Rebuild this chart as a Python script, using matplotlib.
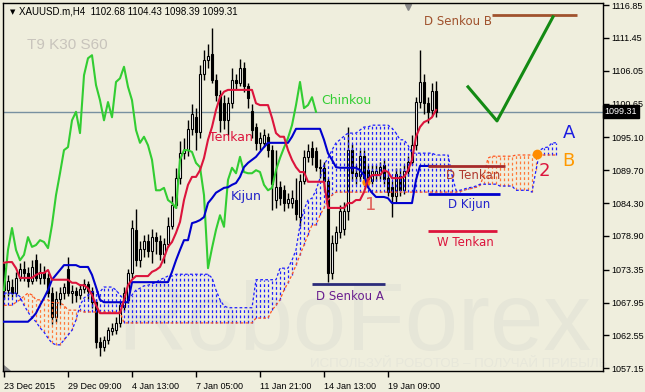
import numpy as np
import matplotlib.pyplot as plt
import matplotlib.transforms as mtransforms
from matplotlib.patches import Polygon

# XAUUSD H4 candles, bar index 0..108
opens = [1073.6, 1070.0, 1070.5, 1069.5, 1072.0, 1073.5, 1072.8, 1071.5, 1075.0, 1072.0,
         1073.0, 1072.0, 1069.5, 1065.5, 1068.5, 1069.5, 1073.5, 1069.5, 1069.8, 1069.2,
         1070.2, 1071.0, 1069.8, 1068.0, 1061.5, 1060.6, 1061.8, 1063.2, 1063.5, 1064.6,
         1067.2, 1068.4, 1072.8, 1079.9, 1075.0, 1076.8, 1078.0, 1076.5, 1078.8, 1078.0,
         1076.0, 1077.5, 1080.5, 1084.0, 1088.5, 1092.5, 1093.0, 1096.5, 1098.5, 1096.0,
         1105.5, 1107.8, 1108.8, 1104.5, 1102.0, 1100.8, 1098.0, 1100.8, 1104.5, 1104.0,
         1106.5, 1103.5, 1099.5, 1096.8, 1094.2, 1094.2, 1095.2, 1093.0, 1084.8, 1086.9,
         1086.4, 1084.3, 1084.3, 1084.8, 1082.0, 1088.0, 1091.8, 1093.3, 1092.8, 1090.3,
         1090.0, 1088.0, 1072.8, 1077.8, 1079.5, 1080.0, 1083.0, 1093.0, 1089.3, 1088.8,
         1092.0, 1089.7, 1088.0, 1089.0, 1089.0, 1090.5, 1088.5, 1087.0, 1085.5, 1088.8,
         1086.5, 1089.5, 1091.0, 1093.8, 1100.9, 1104.2, 1100.8, 1099.6, 1102.68]
highs = [1074.5, 1072.5, 1071.8, 1073.0, 1074.5, 1074.8, 1073.8, 1075.0, 1076.0, 1074.5,
         1074.0, 1072.8, 1070.5, 1069.8, 1070.5, 1071.2, 1075.5, 1070.8, 1070.5, 1071.0,
         1071.8, 1071.5, 1070.5, 1068.5, 1062.3, 1062.5, 1064.0, 1064.6, 1065.5, 1068.2,
         1070.5, 1073.5, 1081.5, 1083.3, 1078.0, 1079.0, 1079.2, 1080.0, 1079.5, 1079.0,
         1078.5, 1082.0, 1085.5, 1090.0, 1094.5, 1095.0, 1098.0, 1100.5, 1100.0, 1107.0,
         1109.5, 1110.5, 1113.0, 1105.5, 1102.8, 1102.0, 1101.8, 1106.5, 1105.5, 1108.0,
         1107.5, 1104.0, 1100.5, 1097.5, 1096.0, 1096.5, 1095.8, 1093.8, 1093.0, 1088.0,
         1087.2, 1086.0, 1086.5, 1088.5, 1089.0, 1093.0, 1094.0, 1094.5, 1093.5, 1091.5,
         1091.0, 1088.5, 1079.0, 1080.5, 1084.0, 1084.5, 1096.8, 1094.0, 1090.5, 1093.0,
         1093.0, 1090.5, 1090.5, 1090.6, 1091.0, 1091.5, 1089.5, 1088.0, 1090.0, 1090.0,
         1090.5, 1092.0, 1095.5, 1101.8, 1109.5, 1105.5, 1101.8, 1104.0, 1104.43]
lows = [1068.5, 1069.0, 1068.8, 1069.0, 1071.5, 1071.5, 1070.5, 1071.0, 1071.5, 1071.0,
        1071.0, 1068.8, 1064.5, 1064.8, 1067.5, 1068.5, 1069.0, 1067.8, 1068.0, 1068.5,
        1069.5, 1068.5, 1067.0, 1060.5, 1059.2, 1060.0, 1061.2, 1062.6, 1062.8, 1064.0,
        1066.5, 1067.8, 1072.0, 1074.0, 1073.8, 1075.5, 1075.5, 1074.5, 1076.0, 1075.0,
        1074.5, 1077.0, 1080.0, 1083.5, 1087.5, 1091.5, 1092.0, 1095.5, 1093.0, 1095.0,
        1104.5, 1106.5, 1104.0, 1101.0, 1096.0, 1096.5, 1095.5, 1100.0, 1103.0, 1103.5,
        1102.5, 1100.0, 1095.0, 1093.0, 1093.0, 1093.5, 1091.8, 1083.2, 1083.5, 1084.0,
        1083.0, 1083.5, 1083.5, 1081.5, 1080.5, 1087.5, 1091.0, 1090.5, 1089.5, 1088.5,
        1086.5, 1071.3, 1071.8, 1076.5, 1078.5, 1079.0, 1081.5, 1088.0, 1087.5, 1088.0,
        1087.5, 1087.0, 1087.5, 1088.0, 1088.2, 1087.5, 1085.5, 1082.0, 1084.5, 1085.5,
        1085.8, 1088.8, 1090.5, 1093.0, 1100.0, 1099.0, 1097.5, 1098.6, 1098.39]
closes = [1070.0, 1071.5, 1069.5, 1072.0, 1073.5, 1072.8, 1071.5, 1073.8, 1072.0, 1073.0,
          1072.0, 1069.5, 1065.5, 1068.5, 1069.5, 1070.5, 1069.5, 1069.8, 1069.2, 1070.2,
          1071.0, 1069.8, 1068.0, 1061.5, 1060.6, 1061.8, 1063.5, 1063.8, 1064.6, 1067.5,
          1069.5, 1072.8, 1080.2, 1074.9, 1076.8, 1078.0, 1076.5, 1078.8, 1078.0, 1076.0,
          1077.5, 1080.5, 1084.0, 1088.5, 1092.5, 1093.0, 1096.5, 1099.0, 1096.0, 1105.5,
          1107.8, 1108.5, 1104.5, 1102.0, 1098.0, 1098.0, 1100.8, 1104.5, 1104.0, 1106.5,
          1103.5, 1101.5, 1096.3, 1094.2, 1095.0, 1095.5, 1093.0, 1087.5, 1086.9, 1085.2,
          1084.3, 1085.0, 1085.1, 1082.5, 1088.0, 1091.8, 1092.8, 1091.8, 1090.3, 1090.0,
          1088.0, 1072.8, 1077.8, 1079.5, 1083.0, 1083.0, 1093.0, 1089.3, 1088.8, 1092.0,
          1088.5, 1088.0, 1089.5, 1089.6, 1090.3, 1088.2, 1086.2, 1085.5, 1089.0, 1086.5,
          1089.5, 1091.0, 1093.8, 1100.9, 1104.2, 1100.8, 1099.2, 1102.7, 1099.31]

tenkan = [1074.5, 1074.6, 1074.6, 1073.6, 1072.0, 1072.0, 1072.0, 1072.0, 1072.5, 1072.8,
          1072.8, 1073.3, 1071.7, 1071.7, 1071.7, 1071.7, 1071.7, 1071.2, 1071.2, 1070.8,
          1070.8, 1070.3, 1069.2, 1067.5, 1066.2, 1066.2, 1066.2, 1066.2, 1066.2, 1066.2,
          1068.4, 1070.8, 1071.7, 1072.3, 1072.3, 1072.3, 1072.3, 1073.0, 1073.3, 1073.8,
          1075.3, 1077.1, 1077.9, 1079.4, 1081.2, 1084.8, 1087.3, 1088.6, 1088.6, 1089.7,
          1091.7, 1094.7, 1096.8, 1099.6, 1101.7, 1102.6, 1102.9, 1102.9, 1102.9, 1102.9,
          1102.9, 1102.9, 1102.9, 1100.7, 1100.4, 1100.4, 1100.4, 1098.3, 1095.8, 1095.2,
          1095.2, 1093.0, 1091.4, 1090.2, 1089.4, 1089.4, 1087.8, 1087.8, 1087.8, 1087.8,
          1087.8, 1083.5, 1083.5, 1083.5, 1083.5, 1083.5, 1084.3, 1084.3, 1084.8, 1084.8,
          1086.1, 1088.1, 1088.9, 1088.9, 1088.9, 1089.7, 1089.4, 1088.4, 1088.4, 1088.4,
          1088.6, 1089.7, 1091.4, 1095.2, 1096.8, 1097.6, 1097.9, 1098.4, 1099.6]
kijun = [1064.8, 1064.8, 1064.8, 1064.8, 1064.8, 1064.8, 1064.8, 1065.4, 1066.2, 1067.5,
         1068.7, 1070.0, 1071.7, 1072.5, 1073.3, 1074.1, 1074.1, 1074.1, 1074.1, 1073.8,
         1073.8, 1073.8, 1072.5, 1070.5, 1068.4, 1068.0, 1068.0, 1068.0, 1068.0, 1068.0,
         1068.0, 1068.0, 1071.3, 1071.3, 1071.3, 1071.3, 1071.3, 1071.3, 1071.3, 1071.3,
         1071.3, 1071.3, 1073.0, 1074.9, 1076.6, 1078.2, 1078.2, 1081.0, 1081.2, 1081.5,
         1082.0, 1084.3, 1085.1, 1086.0, 1086.4, 1086.8, 1086.9, 1087.3, 1087.6, 1088.6,
         1090.2, 1090.9, 1091.4, 1091.9, 1092.7, 1093.5, 1094.2, 1094.2, 1094.2, 1094.2,
         1094.2, 1094.2, 1095.2, 1096.5, 1096.5, 1096.5, 1096.5, 1096.5, 1096.5, 1096.5,
         1094.7, 1092.5, 1091.4, 1090.2, 1090.1, 1090.1, 1090.1, 1090.1, 1090.1, 1089.7,
         1088.9, 1086.9, 1086.0, 1085.3, 1085.3, 1085.3, 1085.1, 1084.3, 1084.3, 1084.3,
         1084.3, 1084.3, 1084.3, 1088.1, 1090.4, 1090.4, 1090.4, 1090.4, 1090.4]
# chinkou: shifted back 30 bars
chinkou = [1070.0, 1076.6, 1080.2, 1076.6, 1074.9, 1075.8, 1078.7, 1077.1, 1077.4, 1078.2,
           1077.9, 1076.9, 1080.7, 1085.6, 1089.2, 1093.0, 1093.5, 1097.9, 1099.3, 1095.8,
           1105.3, 1108.1, 1108.6, 1103.7, 1101.2, 1097.9, 1100.9, 1098.4, 1104.2, 1104.8,
           1106.7, 1103.4, 1101.2, 1096.3, 1094.2, 1095.2, 1093.8, 1091.4, 1086.4, 1086.4,
           1086.8, 1084.8, 1084.3, 1083.5, 1091.4, 1093.0, 1093.0, 1092.7, 1090.9, 1090.2,
           1085.6, 1073.6, 1076.9, 1079.9, 1082.3, 1080.4, 1088.1, 1090.1, 1089.2, 1091.9,
           1089.4, 1089.2, 1089.2, 1089.7, 1089.4, 1087.3, 1086.4, 1086.8, 1089.7, 1091.7,
           1093.4, 1095.0, 1097.1, 1100.4, 1104.2, 1099.9, 1100.4, 1101.7, 1099.3]
# senkou spans: shifted forward 30 bars (index 0..138)
senkou_a = [1067.5, 1067.5, 1067.5, 1068.0, 1068.4, 1069.0, 1069.5, 1069.2, 1068.4, 1068.4,
            1068.4, 1068.4, 1068.0, 1067.9, 1067.9, 1067.5, 1066.7, 1066.7, 1066.7, 1066.6,
            1066.4, 1066.4, 1066.4, 1066.4, 1066.4, 1066.4, 1066.4, 1066.4, 1066.4, 1066.4,
            1064.6, 1064.6, 1064.6, 1064.6, 1064.6, 1064.6, 1064.6, 1064.6, 1064.6, 1064.6,
            1064.6, 1064.6, 1064.6, 1064.6, 1064.6, 1064.6, 1064.6, 1064.6, 1064.6, 1064.6,
            1064.6, 1064.6, 1064.6, 1064.6, 1064.6, 1064.6, 1064.6, 1064.6, 1064.6, 1064.6,
            1064.6, 1064.6, 1064.6, 1065.4, 1065.4, 1065.4, 1065.4, 1066.7, 1067.5, 1068.4,
            1070.0, 1071.2, 1072.5, 1074.1, 1075.8, 1077.4, 1079.1, 1080.7, 1080.7, 1082.3,
            1083.5, 1084.8, 1085.6, 1086.1, 1086.1, 1086.1, 1086.1, 1086.1, 1086.1, 1086.1,
            1086.1, 1086.1, 1086.1, 1086.1, 1086.1, 1086.1, 1086.1, 1086.1, 1086.1, 1086.1,
            1086.1, 1086.1, 1086.1, 1086.1, 1086.1, 1086.1, 1086.1, 1086.1, 1086.1, 1086.1,
            1086.1, 1086.1, 1086.1, 1086.1, 1086.2, 1086.4, 1086.6, 1086.7, 1086.9, 1087.2,
            1088.9, 1091.7, 1092.0, 1092.0, 1092.0, 1092.0, 1092.0, 1092.0, 1092.2, 1092.2,
            1092.2, 1092.2, 1092.2, 1092.2, 1092.2, 1092.2, 1092.2, 1092.2, 1092.2]
senkou_b = [1069.5, 1069.5, 1069.5, 1069.5, 1068.9, 1067.5, 1066.4, 1065.4, 1064.8, 1063.8,
            1063.1, 1062.1, 1061.3, 1061.0, 1061.0, 1061.8, 1062.6, 1063.4, 1065.1, 1067.5,
            1068.7, 1069.2, 1069.7, 1069.7, 1069.7, 1070.5, 1070.5, 1070.5, 1070.0, 1069.2,
            1068.4, 1068.4, 1069.2, 1070.0, 1070.3, 1070.7, 1070.8, 1071.0, 1071.3, 1071.7,
            1072.0, 1072.3, 1072.3, 1072.6, 1072.6, 1072.6, 1072.6, 1072.6, 1072.6, 1072.6,
            1072.6, 1072.6, 1072.0, 1070.0, 1068.4, 1067.4, 1067.1, 1067.1, 1067.1, 1067.1,
            1067.1, 1067.1, 1067.1, 1071.7, 1071.7, 1071.7, 1071.7, 1071.7, 1071.7, 1073.6,
            1073.6, 1073.6, 1074.9, 1076.6, 1080.7, 1083.2, 1084.8, 1085.1, 1086.4, 1088.4,
            1090.6, 1091.7, 1093.0, 1094.2, 1094.7, 1095.3, 1095.8, 1095.8, 1095.8, 1096.3,
            1096.8, 1096.8, 1097.1, 1097.1, 1097.1, 1097.1, 1097.1, 1096.6, 1095.8, 1094.7,
            1094.7, 1093.8, 1092.5, 1092.5, 1092.5, 1092.5, 1092.5, 1092.5, 1092.2, 1092.2,
            1092.2, 1092.2, 1088.9, 1086.4, 1086.4, 1086.6, 1086.8, 1086.9, 1087.1, 1087.4,
            1087.4, 1087.4, 1087.4, 1087.4, 1087.1, 1087.1, 1087.1, 1087.1, 1086.4, 1086.4,
            1086.4, 1086.4, 1086.1, 1089.7, 1093.0, 1093.4, 1093.5, 1094.2, 1094.2]

price_ticks = [1116.85, 1111.45, 1106.05, 1100.65, 1095.10, 1089.70, 1084.30,
               1078.90, 1073.35, 1067.95, 1062.55, 1057.15]
date_labels = ["23 Dec 2015", "29 Dec 09:00", "4 Jan 13:00", "7 Jan 05:00",
               "11 Jan 21:00", "14 Jan 13:00", "19 Jan 09:00"]
date_bars = [0, 16, 32, 48, 64, 80, 96]
last_price = 1099.31

# annotation levels (price, bar from, bar to)
d_senkou_b = (1115.2, 122, 143.25)
d_tenkan = (1090.4, 106, 125.25)
d_kijun = (1085.8, 106, 124)
w_tenkan = (1079.7, 106, 123.25)
d_senkou_a = (1071.0, 77, 95.25)
check_bars = [116, 123.25, 137.25]
check_prices = [1103.4, 1097.8, 1114.9]
cross1 = (90.5, 1087.75)
cross2 = (133.25, 1092.4)

bg = '#EFEEDD'
fig = plt.figure(figsize=(6.45, 3.92), dpi=100, facecolor=bg)
ax = fig.add_axes([3/645, 21/392, 600/645, 368/392], facecolor=bg)
ax.set_xlim(-0.25, 149.75)
ax.set_ylim(1056.70, 1117.18)

# watermark
ax.text(0.19, 0.057, "RoboForex", transform=ax.transAxes, fontsize=69,
        family='Liberation Sans', color='#E6E6D8', ha='left', va='baseline', zorder=0)
ax.text(0.512, 0.012, "ИСПОЛЬЗУЙ РОБОТОВ – ПОЛУЧАЙ ПРИБЫЛЬ", transform=ax.transAxes,
        fontsize=9.5, family='Liberation Sans', color='#E7E7DA', ha='left', va='baseline', zorder=0)

# candles
o = np.array(opens); c = np.array(closes)
h = np.array(highs); l = np.array(lows)
xb = np.arange(len(o))
ax.vlines(xb, l, h, color='black', lw=1, zorder=2)
bull = c >= o
ax.bar(xb[bull], (c - o)[bull], bottom=o[bull], width=0.6, color='white',
       edgecolor='black', lw=0.8, zorder=3)
ax.bar(xb[~bull], (o - c)[~bull], bottom=c[~bull], width=0.6, color='black',
       edgecolor='black', lw=0.8, zorder=3)

# cloud
sa = np.array(senkou_a); sb = np.array(senkou_b)
xs = np.arange(len(sa))
hatch_cols = np.where(sa >= sb, '#FF7A3A', '#1E1EFF')
ax.vlines(xs, np.minimum(sa, sb), np.maximum(sa, sb), colors=hatch_cols, lw=0.9,
          linestyles=[(0, (2.2, 2.0))], zorder=4)
ax.plot(xs, sa, color='#FF5520', lw=0.9, ls=(0, (2.2, 1.8)), zorder=4)
ax.plot(xs, sb, color='#1E1EFF', lw=0.9, ls=(0, (2.2, 1.8)), zorder=4)

# ichimoku lines
ax.axhline(last_price, color='#7890A0', lw=1, zorder=1)
ax.plot(np.arange(len(chinkou)), chinkou, color='#32CD32', lw=1.5, zorder=5)
ax.plot(xb, kijun, color='#0000CD', lw=1.5, zorder=5)
ax.plot(xb, tenkan, color='#DC143C', lw=1.5, zorder=6)

# markers
ax.plot(*cross1, 'o', color='#FF8C00', ms=5, zorder=4.5)
ax.plot(*cross2, 'o', color='#FF8C00', ms=7, mec='none', zorder=7)

# level annotations
for (lev, x0, x1), lc in [(d_senkou_b, '#A0522D'), (d_tenkan, '#A52A2A'),
                          (d_kijun, '#0000CD'), (w_tenkan, '#DC143C'),
                          (d_senkou_a, '#2B2B7A')]:
    ax.hlines(lev, x0, x1, color=lc, lw=2, zorder=8)
ax.text(105, 1114.2, "D Senkou B", color='#A0522D', fontsize=8.5, va='center', zorder=9)
ax.text(110.5, 1088.9, "D Tenkan", color='#B03A2E', fontsize=8.5, va='center', zorder=9)
ax.text(111, 1084.1, "D Kijun", color='#2222CC', fontsize=8.5, va='center', zorder=9)
ax.text(108.25, 1077.9, "W Tenkan", color='#DC143C', fontsize=8.5, va='center', zorder=9)
ax.text(78, 1068.9, "D Senkou A", color='#6A2090', fontsize=8.5, va='center', zorder=9)

ax.plot(check_bars, check_prices, color='#138A13', lw=2.2, zorder=8)

ax.text(51.25, 1095.0, "Tenkan", color='#DC143C', fontsize=9, va='center', zorder=9)
ax.text(56.75, 1085.3, "Kijun", color='#2020C8', fontsize=9, va='center', zorder=9)
ax.text(79.25, 1101.2, "Chinkou", color='#32CD32', fontsize=9, va='center', zorder=9)
ax.text(141.25, 1095.8, "A", color='#1A1AE0', fontsize=13, ha='center', va='center', zorder=9)
ax.text(141, 1091.2, "B", color='#FF9900', fontsize=13, ha='center', va='center', zorder=9)
ax.text(135, 1089.6, "2", color='#DC143C', fontsize=13, ha='center', va='center', zorder=9)
ax.text(91.75, 1084.0, "1", color='#E0605A', fontsize=13, ha='center', va='center', zorder=9)

ax.text(0.04, 0.886, "T9 K30 S60", transform=ax.transAxes, color='#C8C4BC',
        fontsize=11, family='Liberation Sans', va='center')
ax.text(0.012, 0.976, "▼", transform=ax.transAxes, fontsize=5, va='center', ha='left')
ax.text(0.027, 0.976, "XAUUSD.m,H4  1102.68 1104.43 1098.39 1099.31", transform=ax.transAxes,
        fontsize=7, family='Liberation Sans', va='center', ha='left')

trans = mtransforms.blended_transform_factory(ax.transData, ax.transAxes)
ax.plot([101], [0.99], marker='v', color='#8A8A8A', ms=5, transform=trans, clip_on=False)
ax.add_patch(Polygon([(0, 0), (0.012, 0), (0, 0.016)], closed=True, color='#8A8A8A',
                     transform=ax.transAxes))

# axes
for s in ax.spines.values():
    s.set_color('black')
    s.set_linewidth(1)
ax.yaxis.tick_right()
ax.set_yticks(price_ticks)
ax.set_yticklabels([f"{v:.2f}" for v in price_ticks])
ax.set_xticks(date_bars)
ax.set_xticklabels(date_labels, ha='left')
ax.tick_params(axis='both', length=4, width=1, direction='out', labelsize=6.5, pad=2)
ax.tick_params(axis='x', pad=4)
for lab in ax.get_xticklabels() + ax.get_yticklabels():
    lab.set_family('Liberation Sans')

ytr = mtransforms.blended_transform_factory(ax.transAxes, ax.transData)
ax.text(1.003, last_price, "1099.31", transform=ytr, color='white', fontsize=6.5,
        family='Liberation Sans', va='center', ha='left',
        bbox=dict(facecolor='black', edgecolor='black', pad=1.5))

fig.savefig('out.png', dpi=100, facecolor=bg)
